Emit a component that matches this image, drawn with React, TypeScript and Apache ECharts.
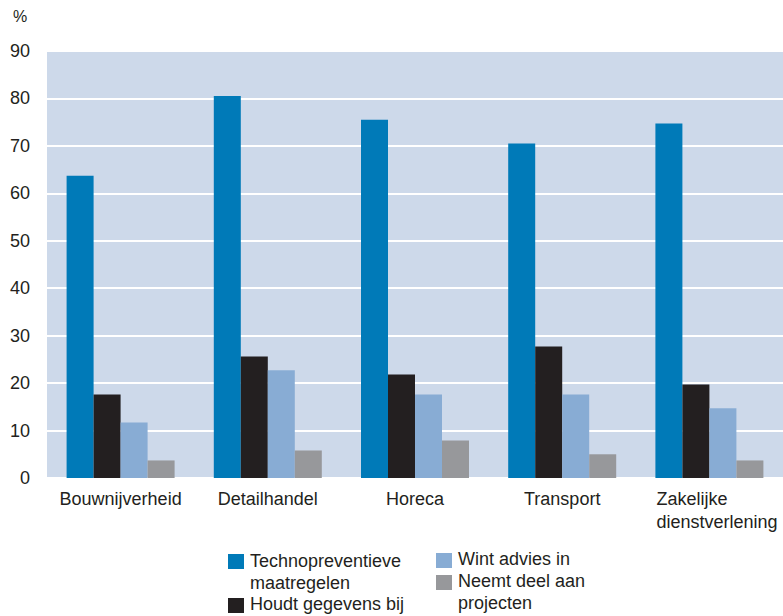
import React, { useEffect, useRef } from "react";
import * as echarts from "echarts";

const categories = ["Bouwnijverheid", "Detailhandel", "Horeca", "Transport", "Zakelijke\ndienstverlening"];
const seriesNames = ["Technopreventieve\nmaatregelen", "Houdt gegevens bij", "Wint advies in", "Neemt deel aan\nprojecten"];
const techno = [63.7, 80.5, 75.5, 70.5, 74.7];
const gegevens = [17.6, 25.6, 21.8, 27.7, 19.7];
const advies = [11.7, 22.7, 17.6, 17.6, 14.7];
const projecten = [3.7, 5.8, 7.9, 5.0, 3.7];
const seriesValues = [techno, gegevens, advies, projecten];
const colors = ["#007ab8", "#231f20", "#88acd4", "#97989b"];
const yTicks = { min: 0, max: 90, interval: 10 };

const FONT = "'Liberation Sans', Arial, sans-serif";
const TEXT = "#231f20";

// legend layout: [x, iconY, textY]
const legendPos: [number, number, number][] = [
  [228, 554, 549.5],
  [228, 598, 592.5],
  [436, 553, 548],
  [436, 575, 570],
];

export default function App() {
  const ref = useRef<HTMLDivElement>(null);
  useEffect(() => {
    document.body.style.margin = "0";
    const chart = echarts.init(ref.current!, undefined, { renderer: "svg" });
    const legendGraphics: any[] = [];
    seriesNames.forEach((name, i) => {
      const [x, iy, ty] = legendPos[i];
      legendGraphics.push({
        type: "rect",
        shape: { x, y: iy, width: 16, height: 15 },
        style: { fill: colors[i] },
      });
      legendGraphics.push({
        type: "text",
        x: x + 22,
        y: ty,
        style: {
          text: name,
          fontSize: 18,
          fontFamily: FONT,
          fill: TEXT,
          lineHeight: 22,
          verticalAlign: "top",
          align: "left",
        },
      });
    });
    legendGraphics.push({
      type: "text",
      x: 13,
      y: 8,
      style: { text: "%", fontSize: 16, fontFamily: FONT, fill: TEXT, verticalAlign: "top" },
    });

    chart.setOption({
      animation: false,
      backgroundColor: "#ffffff",
      textStyle: { fontFamily: FONT },
      grid: {
        left: 47,
        right: 0,
        top: 51,
        bottom: 138,
        show: true,
        backgroundColor: "#cdd9ea",
        borderWidth: 0,
      },
      xAxis: {
        type: "category",
        data: categories,
        axisLine: { show: false },
        axisTick: { show: false },
        axisLabel: {
          interval: 0,
          margin: 9,
          fontSize: 18,
          lineHeight: 23,
          color: TEXT,
          fontFamily: FONT,
          formatter: (v: string) =>
            v.includes("\n") ? v.split("\n").map((s) => `{l|${s}}`).join("\n") : v,
          rich: {
            l: {
              fontSize: 18,
              lineHeight: 23,
              color: TEXT,
              fontFamily: FONT,
              width: 122,
              align: "left",
              padding: [0, 0, 0, 16],
            },
          },
        },
      },
      yAxis: {
        type: "value",
        min: yTicks.min,
        max: yTicks.max,
        interval: yTicks.interval,
        axisLine: { show: false },
        axisTick: { show: false },
        splitLine: { show: true, lineStyle: { color: "#ffffff", width: 2 } },
        axisLabel: {
          margin: 17,
          fontSize: 18,
          color: TEXT,
          fontFamily: FONT,
          padding: [0, 0, 8, 0],
        },
      },
      series: seriesValues.map((vals, i) => ({
        type: "bar",
        name: seriesNames[i],
        data: vals,
        barWidth: 27,
        barGap: "0%",
        itemStyle: { color: colors[i] },
      })),
      graphic: legendGraphics,
    });
    return () => chart.dispose();
  }, []);
  return <div ref={ref} style={{ width: 783, height: 616 }} />;
}
